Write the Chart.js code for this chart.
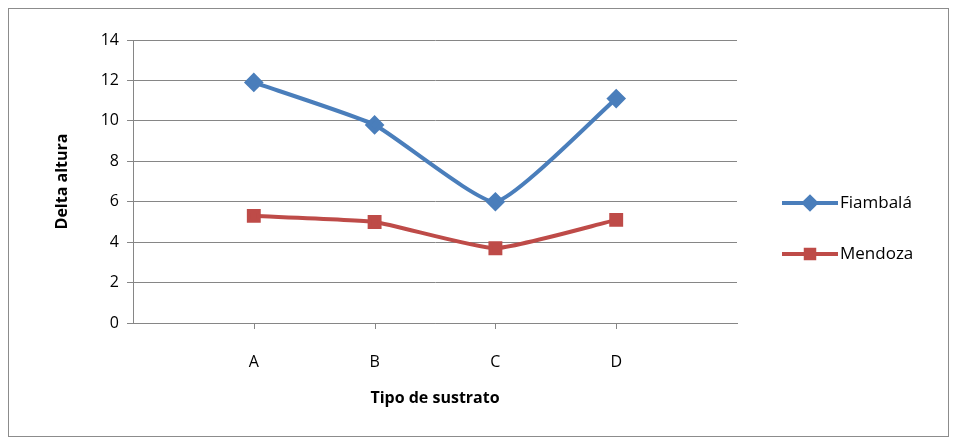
<!DOCTYPE html>
<html>
<head>
<meta charset="utf-8">
<script src="https://cdn.jsdelivr.net/npm/chart.js@4"></script>
<style>
    body { margin: 0; background: #fff; }
    #wrap { position: relative; width: 959px; height: 443px; }
    #frame { position: absolute; left: 8px; top: 8px; width: 941px; height: 429px; border: 1px solid #8c8c8c; box-sizing: border-box; }
</style>
</head>
<body>
<div id="wrap">
    <div id="frame"></div>
    <canvas id="chart" width="959" height="443"></canvas>
</div>
<script>
const categories = ["", "A", "B", "C", "D", ""];
const fiambala = [null, 11.9, 9.8, 6.0, 11.1, null];
const mendoza = [null, 5.3, 5.0, 3.7, 5.1, null];
const yTicks = [0, 2, 4, 6, 8, 10, 12, 14];

const FONT = "'Open Sans', 'DejaVu Sans', sans-serif";

const decorPlugin = {
    id: "decor",
    afterDraw(chart) {
        const ctx = chart.ctx;
        const area = chart.chartArea;
        ctx.save();
        ctx.fillStyle = "#000";
        ctx.font = "bold 16px " + FONT;
        ctx.textAlign = "center";
        ctx.textBaseline = "middle";
        ctx.fillText("Tipo de sustrato", (area.left + area.right) / 2, 398);
        ctx.translate(62, (area.top + area.bottom) / 2);
        ctx.rotate(-Math.PI / 2);
        ctx.fillText("Delta altura", 0, 0);
        ctx.restore();

        // x tick marks at categories
        ctx.save();
        ctx.strokeStyle = "#868686";
        ctx.lineWidth = 1;
        const xs = chart.scales.x;
        [1, 2, 3, 4].forEach((i) => {
            const px = Math.round(xs.getPixelForValue(i)) + 0.5;
            ctx.beginPath();
            ctx.moveTo(px, area.bottom);
            ctx.lineTo(px, area.bottom + 6);
            ctx.stroke();
        });
        ctx.restore();

        // legend
        const rows = [
            { y: 203, color: "#4A7EBB", label: "Fiambalá", style: "rectRot", r: 6 },
            { y: 254, color: "#BE4B48", label: "Mendoza", style: "rect", r: 6 }
        ];
        rows.forEach((row) => {
            ctx.save();
            ctx.strokeStyle = row.color;
            ctx.lineWidth = 4;
            ctx.beginPath();
            ctx.moveTo(782, row.y);
            ctx.lineTo(838, row.y);
            ctx.stroke();
            ctx.fillStyle = row.color;
            Chart.helpers.drawPoint(ctx, { pointStyle: row.style, radius: row.r, borderWidth: 1 }, 810, row.y);
            ctx.fill();
            ctx.fillStyle = "#000";
            ctx.font = "17px " + FONT;
            ctx.textBaseline = "middle";
            ctx.fillText(row.label, 840, row.y);
            ctx.restore();
        });
    }
};

new Chart(document.getElementById("chart"), {
    type: "line",
    data: {
        labels: categories,
        datasets: [
            {
                label: "Fiambalá",
                data: fiambala,
                borderColor: "#4A7EBB",
                backgroundColor: "#4A7EBB",
                borderWidth: 4,
                pointStyle: "rectRot",
                pointRadius: 7,
                tension: 0.15
            },
            {
                label: "Mendoza",
                data: mendoza,
                borderColor: "#BE4B48",
                backgroundColor: "#BE4B48",
                borderWidth: 4,
                pointStyle: "rect",
                pointRadius: 7,
                tension: 0.15
            }
        ]
    },
    options: {
        responsive: false,
        animation: false,
        layout: { padding: { left: 10, right: 222, top: 40, bottom: 0 } },
        plugins: { legend: { display: false }, tooltip: { enabled: false } },
        scales: {
            x: {
                offset: false,
                afterFit: (scale) => { scale.height = 120; },
                grid: { display: false },
                border: { color: "#868686" },
                ticks: {
                    color: "#000",
                    font: { family: FONT, size: 16 },
                    padding: 22,
                    maxRotation: 0,
                    autoSkip: false
                }
            },
            y: {
                min: 0,
                max: 14,
                afterFit: (scale) => { scale.width = 123; },
                afterBuildTicks: (scale) => { scale.ticks = yTicks.map((v) => ({ value: v })); },
                grid: { color: "#868686", tickLength: 6 },
                border: { color: "#868686" },
                ticks: {
                    color: "#000",
                    font: { family: FONT, size: 16 },
                    padding: 8
                }
            }
        }
    },
    plugins: [decorPlugin]
});
</script>
</body>
</html>
